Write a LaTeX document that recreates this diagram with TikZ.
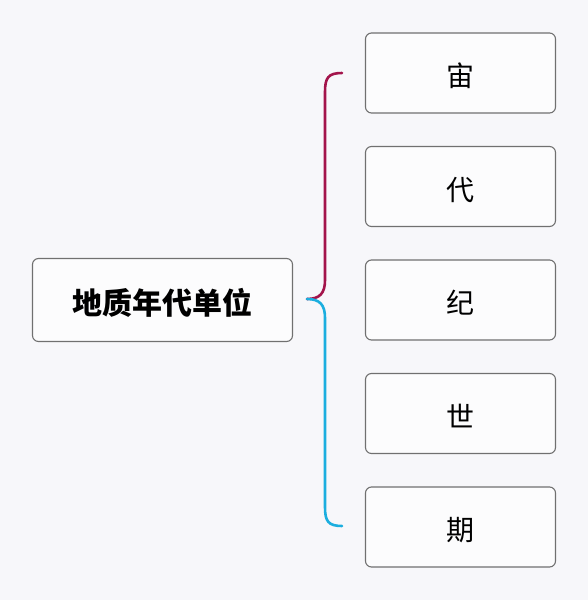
\documentclass[tikz,border=0pt]{standalone}
\usepackage{fontspec}
\setmainfont{Noto Sans CJK SC}
\usetikzlibrary{positioning}
\definecolor{bgcol}{HTML}{F7F7FA}
\definecolor{boxline}{HTML}{707070}
\definecolor{topbrace}{HTML}{A3144B}
\definecolor{lowbrace}{HTML}{1BAEDF}
\begin{document}
\begin{tikzpicture}[x=1pt, y=-1pt,
			unitbox/.style={draw=boxline, line width=1.1pt, rounded corners=6pt, fill=white!60!bgcol, minimum width=190pt, minimum height=80pt, text height=30pt, text depth=3pt, font=\fontsize{28}{32}\selectfont},
			mainbox/.style={draw=boxline, line width=1.1pt, rounded corners=6pt, fill=white!60!bgcol, minimum width=260pt, minimum height=83pt, text height=32pt, text depth=3pt, font=\fontsize{30}{34}\selectfont\bfseries},
			brace/.style={line width=2.6pt, line cap=round}]
			
			\fill[bgcol] (0,0) rectangle (588,600);
			\useasboundingbox (0,0) rectangle (588,600);
			
			\node[mainbox] (unit) at (162.5,300) {地质年代单位};
			\node[unitbox] (eon) at (460.5,73) {宙};
			\node[unitbox] (era) [below=32.4pt of eon] {代};
			\node[unitbox] (period) [below=32.4pt of era] {纪};
			\node[unitbox] (epoch) [below=32.4pt of period] {世};
			\node[unitbox] (age) [below=32.4pt of epoch] {期};
			
			\coordinate (tip) at (307,299);
			\coordinate (top) at (342,73);
			\coordinate (bot) at (342,526);
			\draw[brace, topbrace] (top) .. controls (328,73) and (325,78) .. (325,92) -- (325,280) .. controls (325,293) and (320,299) .. (tip);
			\draw[brace, lowbrace] (tip) .. controls (320,299) and (325,305) .. (325,318) -- (325,507) .. controls (325,521) and (328,526) .. (bot);
		\end{tikzpicture}
\end{document}
